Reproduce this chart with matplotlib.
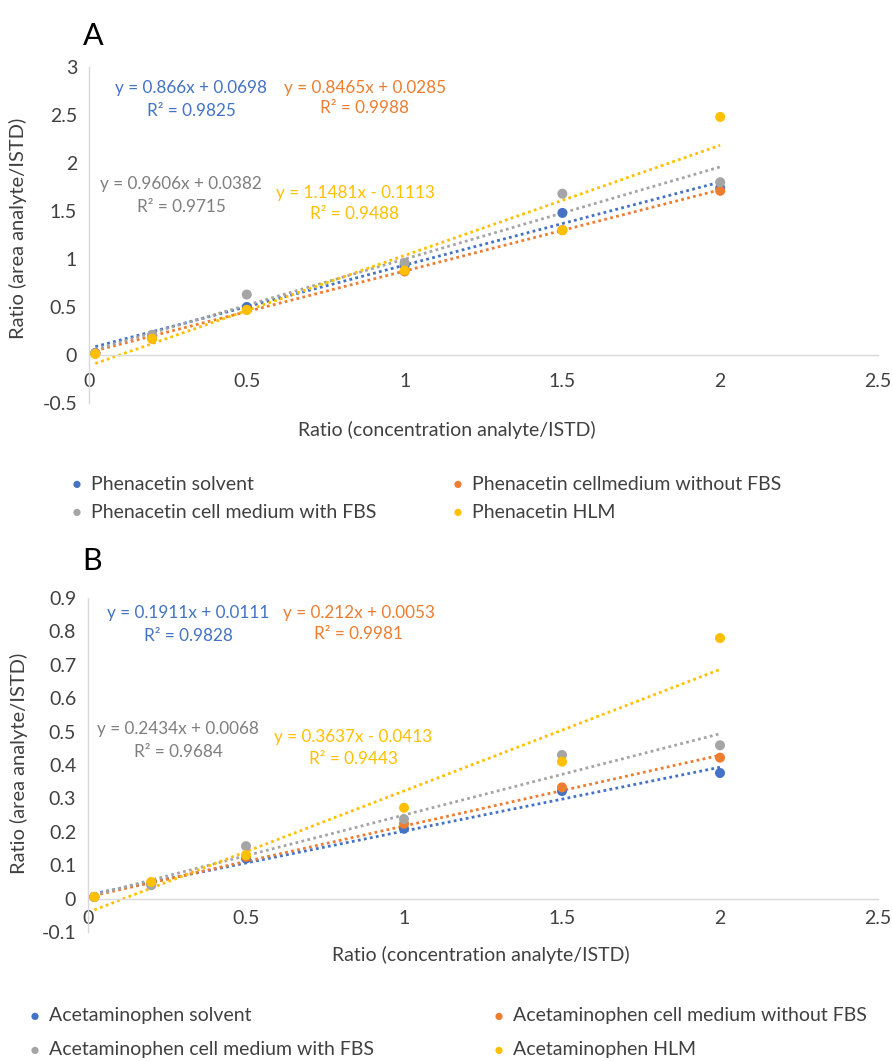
import matplotlib
matplotlib.use("Agg")
import matplotlib.pyplot as plt
import numpy as np

plt.rcParams['font.family'] = ['Lato', 'DejaVu Sans']

# ---- data -------------------------------------------------------------
conc = [0.02, 0.2, 0.5, 1.0, 1.5, 2.0]

# Panel A: phenacetin
phen_names = ["Phenacetin solvent", "Phenacetin cellmedium without FBS",
              "Phenacetin cell medium with FBS", "Phenacetin HLM"]
phen_solvent = [0.02, 0.20, 0.50, 0.93, 1.48, 1.74]
phen_nofbs = [0.02, 0.17, 0.47, 0.87, 1.30, 1.71]
phen_fbs = [0.02, 0.21, 0.63, 0.96, 1.68, 1.80]
phen_hlm = [0.01, 0.17, 0.47, 0.88, 1.30, 2.48]
phen_slope = [0.866, 0.8465, 0.9606, 1.1481]
phen_icpt = [0.0698, 0.0285, 0.0382, -0.1113]
phen_r2 = [0.9825, 0.9988, 0.9715, 0.9488]

# Panel B: acetaminophen
acet_names = ["Acetaminophen solvent", "Acetaminophen cell medium without FBS",
              "Acetaminophen cell medium with FBS", "Acetaminophen HLM"]
acet_solvent = [0.005, 0.045, 0.12, 0.209, 0.322, 0.376]
acet_nofbs = [0.005, 0.045, 0.125, 0.224, 0.333, 0.422]
acet_fbs = [0.005, 0.040, 0.157, 0.238, 0.430, 0.459]
acet_hlm = [0.005, 0.050, 0.130, 0.272, 0.410, 0.780]
acet_slope = [0.1911, 0.212, 0.2434, 0.3637]
acet_icpt = [0.0111, 0.0053, 0.0068, -0.0413]
acet_r2 = [0.9828, 0.9981, 0.9684, 0.9443]

colors = ["#4472C4", "#ED7D31", "#A5A5A5", "#FFC000"]
eq_colors = ["#4472C4", "#ED7D31", "#7F7F7F", "#FFC000"]
text_color = "#404040"

W, H = 892, 1061
fig = plt.figure(figsize=(W / 100, H / 100), dpi=100)


def fx(px):
    return px / W


def fy(py):
    return 1 - py / H


def eq_text(m, b):
    sign = "+" if b >= 0 else "-"
    return f"y = {m:g}x {sign} {abs(b):g}"


def panel(rect, series, names, slopes, icpts, r2s, ylim, yticks, ylab_pad,
          xlab_pad, eq_pos):
    ax = fig.add_axes(rect)
    ax.set_xlim(0, 2.5)
    ax.set_ylim(*ylim)
    for sp in ["top", "right"]:
        ax.spines[sp].set_visible(False)
    ax.spines["left"].set_position(("data", 0))
    ax.spines["bottom"].set_position(("data", 0))
    for sp in ["left", "bottom"]:
        ax.spines[sp].set_color("#D9D9D9")
        ax.spines[sp].set_linewidth(1.0)
    ax.set_xticks([0, 0.5, 1, 1.5, 2, 2.5])
    ax.set_xticklabels(["0", "0.5", "1", "1.5", "2", "2.5"])
    ax.set_yticks(yticks)
    ax.set_yticklabels([f"{t:g}" for t in yticks])
    ax.tick_params(axis="y", length=0, pad=ylab_pad, labelsize=14,
                   labelcolor=text_color)
    ax.tick_params(axis="x", length=0, pad=xlab_pad, labelsize=14,
                   labelcolor=text_color)
    handles = []
    xs = np.array([min(conc), max(conc)])
    for m, b, c in zip(slopes, icpts, colors):
        ax.plot(xs, m * xs + b, linestyle=(0, (1, 1.2)), color=c, lw=2.0,
                zorder=2)
    for ys, name, c in zip(series, names, colors):
        h = ax.scatter(conc, ys, s=52, color=c, zorder=3, label=name,
                       edgecolors="none")
        handles.append(h)
    for (x, y1, y2), m, b, r2, c in zip(eq_pos, slopes, icpts, r2s, eq_colors):
        ax.text(fx(x), fy(y1), eq_text(m, b), transform=fig.transFigure,
                ha="center", va="center", fontsize=12.3, color=c)
        ax.text(fx(x), fy(y2), f"R² = {r2:g}", transform=fig.transFigure,
                ha="center", va="center", fontsize=12.3, color=c)
    return ax, handles


# panel A
axA, hA = panel([fx(89), fy(403), fx(878) - fx(89), fy(67) - fy(403)],
                [phen_solvent, phen_nofbs, phen_fbs, phen_hlm], phen_names,
                phen_slope, phen_icpt, phen_r2,
                (-0.5, 3), [-0.5, 0, 0.5, 1, 1.5, 2, 2.5, 3], 8.5, 13,
                [(191, 88, 111), (365, 88, 108),
                 (181, 184, 207), (355, 193, 214)])
fig.text(fx(83), fy(45), "A", fontsize=22, va="baseline", ha="left")
fig.text(fx(18), fy(228), "Ratio (area analyte/ISTD)", rotation=90,
         ha="center", va="center", fontsize=14.5, color=text_color)
fig.text(fx(447), fy(430), "Ratio (concentration analyte/ISTD)",
         ha="center", va="center", fontsize=14, color=text_color)

# panel B
axB, hB = panel([fx(88), fy(932), fx(878) - fx(88), fy(598) - fy(932)],
                [acet_solvent, acet_nofbs, acet_fbs, acet_hlm], acet_names,
                acet_slope, acet_icpt, acet_r2,
                (-0.1, 0.9), [round(v, 1) for v in np.arange(-0.1, 0.95, 0.1)],
                8.5, 8,
                [(188, 613, 636), (359, 613, 634),
                 (178, 729, 752), (353, 737, 759)])
fig.text(fx(82), fy(570), "B", fontsize=22, va="baseline", ha="left")
fig.text(fx(19), fy(763), "Ratio (area analyte/ISTD)", rotation=90,
         ha="center", va="center", fontsize=14.5, color=text_color)
fig.text(fx(481), fy(955), "Ratio (concentration analyte/ISTD)",
         ha="center", va="center", fontsize=14, color=text_color)


def legend_entry(handle, marker_x, y):
    # one legend row, marker centred at marker_x, row centred at y (pixels)
    fs = 14
    fs_px = fs * 100 / 72
    hl = 0.3
    fig.legend(handles=[handle], loc="center left",
               bbox_to_anchor=(fx(marker_x - hl * fs_px / 2), fy(y)),
               frameon=False, fontsize=fs, handlelength=hl,
               handletextpad=(14 - hl * fs_px / 2) / fs_px,
               markerscale=0.72, borderpad=0, borderaxespad=0,
               labelcolor=text_color)


legend_entry(hA[0], 77, 484)
legend_entry(hA[2], 77, 512)
legend_entry(hA[1], 458, 484)
legend_entry(hA[3], 458, 512)
legend_entry(hB[0], 35, 1016)
legend_entry(hB[2], 35, 1050)
legend_entry(hB[1], 499, 1016)
legend_entry(hB[3], 499, 1050)

fig.savefig("out.png", dpi=100)
